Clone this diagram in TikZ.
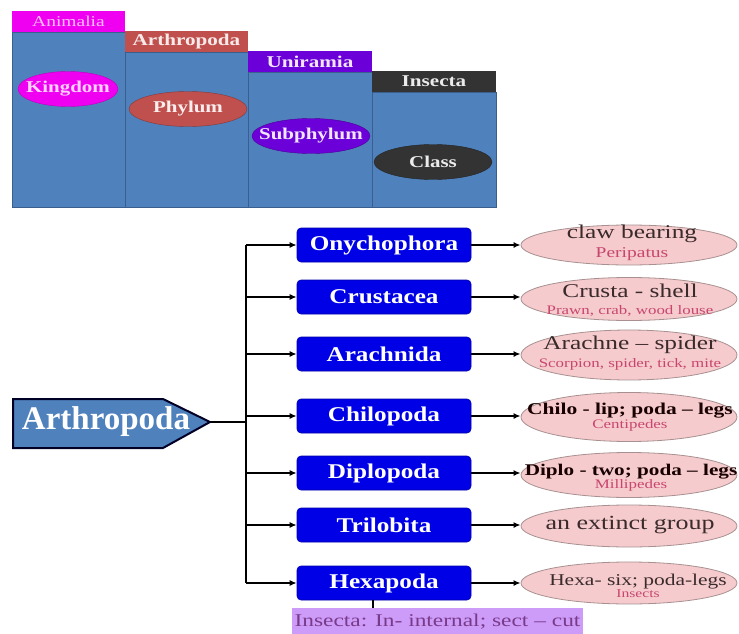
\documentclass[tikz,border=0pt]{standalone}
\usepackage{fontspec}
\usepackage{graphicx}
\setmainfont{Liberation Serif}
\usetikzlibrary{shapes.geometric,arrows.meta}
\newcommand\fsz[1]{\fontsize{#1}{#1}\selectfont}
\newcommand\sx[2]{\scalebox{#1}[1]{#2}}
\definecolor{colblue}{HTML}{4F81BD}
\definecolor{colline}{HTML}{3A5F8E}
\definecolor{magh}{HTML}{F000F0}
\definecolor{redh}{HTML}{C0504D}
\definecolor{purh}{HTML}{6C00D8}
\definecolor{darkh}{HTML}{333333}
\definecolor{boxblue}{HTML}{0000E6}
\definecolor{ellfill}{HTML}{F5CBCE}
\definecolor{ellline}{HTML}{A89090}
\definecolor{subred}{HTML}{C8466E}
\definecolor{maintxt}{HTML}{3A2A2A}
\definecolor{insfill}{HTML}{CC9CF8}
\definecolor{instxt}{HTML}{7A3A8A}
\definecolor{arthfill}{HTML}{4F81BD}
\begin{document}
\begin{tikzpicture}[x=1pt,y=-1pt,
  colbody/.style={rectangle, draw=colline, line width=0.6pt, fill=colblue, inner sep=0pt},
  hdr/.style={rectangle, inner sep=0pt, minimum height=21pt, font=\fsz{16.5}\bfseries},
  topell/.style={ellipse, inner sep=0pt, minimum height=35pt, font=\fsz{16.5}\bfseries},
  bbox/.style={rectangle, rounded corners=4pt, fill=boxblue, draw=boxblue!75!black, line width=0.6pt,
     minimum width=174pt, minimum height=34pt, inner sep=0pt, text=white, font=\fsz{21}\bfseries},
  ellshape/.style={ellipse, fill=ellfill, draw=ellline, line width=0.8pt, minimum width=216pt, inner sep=0pt},
  etext/.style={align=center, inner sep=0pt, text=maintxt},
  conn/.style={line width=2.2pt, -{Latex[length=7pt,width=6pt]}},
  trunk/.style={line width=2.6pt},
]
\path[use as bounding box] (0,0) rectangle (739,634);

% ---------- top chart ----------
\node[colbody, minimum width=113pt, minimum height=175pt] (b1) at (68.5,119.5) {};
\node[colbody, minimum width=123pt, minimum height=155pt] (b2) at (186.5,129.5) {};
\node[colbody, minimum width=124pt, minimum height=135pt] (b3) at (310,139.5) {};
\node[colbody, minimum width=124pt, minimum height=115pt] (b4) at (434,149.5) {};

\node[hdr, fill=magh, minimum width=113pt, text=magh!25!white, font=\fsz{15}] (h1) at (68.5,21.5) {\sx{1.3}{Animalia}};
\node[hdr, fill=redh, minimum width=123pt, text=redh!12!white] (h2) at (186.5,41.5) {\sx{1.28}{Arthropoda}};
\node[hdr, fill=purh, minimum width=124pt, text=purh!10!white] (h3) at (310,61.5) {\sx{1.28}{Uniramia}};
\node[hdr, fill=darkh, minimum width=124pt, text=white!92!black] (h4) at (434,81.5) {\sx{1.28}{Insecta}};

\node[topell, fill=magh, draw=magh!80!black, minimum width=100pt, text=magh!18!white] (e1) at (68,89) {\makebox[0pt]{\sx{1.27}{Kingdom}}};
\node[topell, fill=redh, draw=redh!70!black, minimum width=118pt, text=redh!10!white] (e2) at (188,109) {\makebox[0pt]{\sx{1.27}{Phylum}}};
\node[topell, fill=purh, draw=purh!70!black, minimum width=118pt, text=purh!10!white] (e3) at (311,136) {\makebox[0pt]{\sx{1.27}{Subphylum}}};
\node[topell, fill=darkh, draw=darkh!70!black, minimum width=118pt, text=white!92!black] (e4) at (433,162) {\makebox[0pt]{\sx{1.27}{Class}}};

% ---------- Arthropoda pentagon ----------
\draw[fill=arthfill, draw=black!85!blue, line width=2pt, line join=miter]
  (13,399) -- (163,399) -- (210,422) -- (163,448) -- (13,448) -- cycle;
\coordinate (arthtip) at (210,422);
\node[text=white, font=\fsz{33}\bfseries, inner sep=0pt] (arth) at (106,422) {Arthropoda};

% ---------- blue boxes ----------
\node[bbox] (n1) at (384,245) {\sx{1.2}{Onychophora}};
\node[bbox] (n2) at (384,297) {\sx{1.2}{Crustacea}};
\node[bbox] (n3) at (384,354) {\sx{1.2}{Arachnida}};
\node[bbox] (n4) at (384,416) {\sx{1.2}{Chilopoda}};
\node[bbox] (n5) at (384,473) {\sx{1.2}{Diplopoda}};
\node[bbox] (n6) at (384,525) {\sx{1.2}{Trilobita}};
\node[bbox] (n7) at (384,583) {\sx{1.2}{Hexapoda}};

% ---------- trunk ----------
\coordinate (ttop) at (246,245);
\coordinate (tbot) at (246,583);
\coordinate (tmid) at (246,422);
\draw[trunk] (ttop) -- (tbot);
\draw[line width=2.2pt] (arthtip) -- (tmid);
\foreach \i in {1,...,7} {
  \draw[conn] (n\i.west -| ttop) -- (n\i.west);
}

% ---------- ellipses ----------
\node[ellshape, minimum height=40pt] (p1) at (629,245) {};
\node[ellshape, minimum height=43pt] (p2) at (629,299) {};
\node[ellshape, minimum height=50pt] (p3) at (629,355) {};
\node[ellshape, minimum height=49pt] (p4) at (629,417) {};
\node[ellshape, minimum height=45pt] (p5) at (629,475) {};
\node[ellshape, minimum height=42pt] (p6) at (629,526) {};
\node[ellshape, minimum height=42pt] (p7) at (629,583) {};

\foreach \i in {1,...,7} {
  \draw[conn] (n\i.east) -- (n\i.east -| p\i.west);
}

\node[etext, font=\fsz{19.5}] (t1) at (632,243) {\sx{1.3}{claw bearing}\\[0pt]{\color{subred}\sx{1.3}{\fsz{15}Peripatus}}};
\node[etext, font=\fsz{19.5}] (t2) at (630,300) {\sx{1.3}{Crusta - shell}\\[-3pt]{\color{subred}\sx{1.3}{\fsz{13}Prawn, crab, wood louse}}};
\node[etext, font=\fsz{19.5}] (t3) at (630,353) {\sx{1.3}{Arachne -- spider}\\[-2pt]{\color{subred}\sx{1.3}{\fsz{13}Scorpion, spider, tick, mite}}};
\node[etext, font=\fsz{16.5}\bfseries, text=black!90!red] (t4) at (630,417) {\sx{1.3}{Chilo - lip; poda -- legs}\\[-3pt]{\color{subred}\sx{1.3}{\mdseries\fsz{13}Centipedes}}};
\node[etext, font=\fsz{16.3}\bfseries, text=black!90!red] (t5) at (631,478) {\sx{1.3}{Diplo - two; poda -- legs}\\[-3pt]{\color{subred}\sx{1.3}{\mdseries\fsz{13}Millipedes}}};
\node[etext, font=\fsz{20}] (t6) at (630,525) {\sx{1.3}{an extinct group}};
\node[etext, font=\fsz{16.5}] (t7) at (638,586) {\sx{1.3}{Hexa- six; poda-legs}\\[-4pt]{\color{subred}\sx{1.3}{\fsz{12}Insects}}};

% ---------- Insecta box ----------
\node[rectangle, fill=insfill, inner sep=0pt, minimum width=291pt, minimum height=27pt,
      text=instxt, font=\fsz{18}] (ins) at (437.5,621.5) {\sx{1.3}{Insecta: In- internal; sect -- cut}};
\coordinate (hxl) at (373,0);
\draw[line width=2.2pt] (n7.south -| hxl) -- (ins.north -| hxl);
\end{tikzpicture}
\end{document}
